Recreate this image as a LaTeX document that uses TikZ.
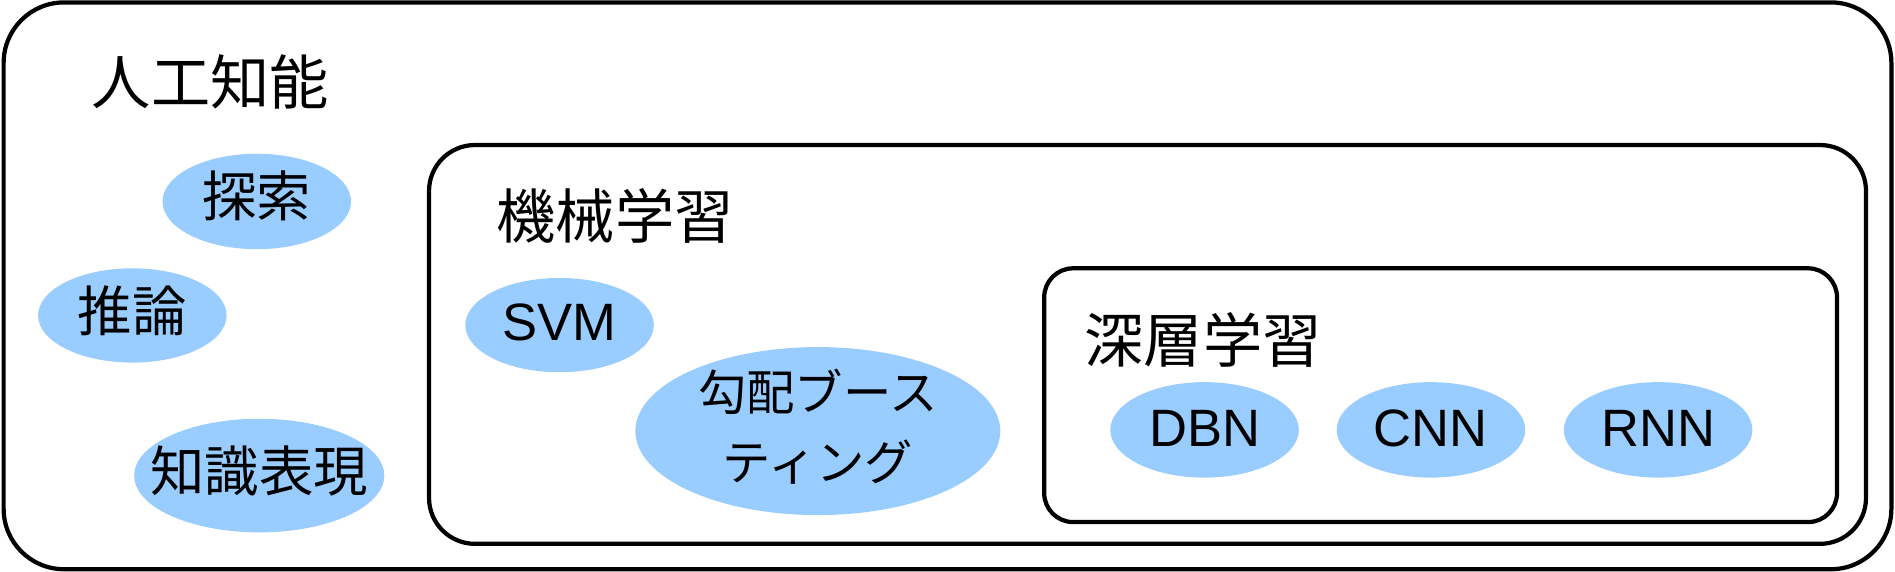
\documentclass[tikz,border=0pt]{standalone}
\usepackage{fontspec}
\setmainfont{Liberation Sans}
\newfontfamily\cjk{Noto Sans CJK JP}
\usetikzlibrary{shapes.geometric}
\definecolor{blobblue}{RGB}{153,204,255}
\begin{document}
\begin{tikzpicture}[x=1pt,y=-1pt,
  frame/.style={draw=black, line width=3.5pt, rounded corners=#1, inner sep=0pt, outer sep=0pt},
  blob/.style={ellipse, fill=blobblue, draw=none, inner sep=0pt, outer sep=0pt},
  titletxt/.style={inner sep=0pt, font=\cjk\fontsize{49pt}{59pt}\selectfont},
  jtxt/.style={inner sep=0pt, font=\cjk\fontsize{45pt}{54pt}\selectfont},
  etxt/.style={inner sep=0pt, font=\fontsize{43.5pt}{52pt}\selectfont},
]
\useasboundingbox (0,0) rectangle (1568,473);
% frames
\node[frame=50, minimum width=1562pt, minimum height=469pt] (ai) at (784,236.5) {};
\node[frame=38, minimum width=1189pt, minimum height=330pt] (ml) at (949.5,285) {};
\node[frame=24, minimum width=656pt, minimum height=210pt] (dl) at (1192,327) {};
% titles
\node[titletxt] (t-ai) at (174,68) {人工知能};
\node[titletxt] (t-ml) at (509,178.5) {機械学習};
\node[titletxt] (t-dl) at (995.5,281.5) {深層学習};
% AI ellipses
\node[blob, minimum width=156pt, minimum height=79pt] (search) at (212.5,166.7) {};
\node[jtxt] (t-search) at ([yshift=5pt]search.center) {探索};
\node[blob, minimum width=156pt, minimum height=78pt] (infer) at (109.5,261) {};
\node[jtxt] (t-infer) at ([yshift=4pt]infer.center) {推論};
\node[blob, minimum width=207pt, minimum height=94pt] (know) at (214.5,393.5) {};
\node[jtxt] (t-know) at ([yshift=4pt]know.center) {知識表現};
% ML ellipses
\node[blob, minimum width=156pt, minimum height=78pt] (svm) at (463,269) {};
\node[etxt] (t-svm) at ([yshift=2pt]svm.center) {SVM};
\node[blob, minimum width=302pt, minimum height=139pt] (gb) at (676.7,356.7) {};
\node[jtxt, align=center, font=\cjk\fontsize{40pt}{57.8pt}\selectfont] (t-gb) at ([yshift=4pt]gb.center) {勾配ブース\\ティング};
% DL ellipses
\node[blob, minimum width=156pt, minimum height=79pt] (dbn) at (996.7,355.7) {};
\node[etxt] (t-dbn) at ([yshift=1.5pt]dbn.center) {DBN};
\node[blob, minimum width=156pt, minimum height=79pt] (cnn) at (1184,355.7) {};
\node[etxt] (t-cnn) at ([yshift=1.5pt]cnn.center) {CNN};
\node[blob, minimum width=156pt, minimum height=79pt] (rnn) at (1372,355.7) {};
\node[etxt] (t-rnn) at ([yshift=1.5pt]rnn.center) {RNN};
\end{tikzpicture}
\end{document}
